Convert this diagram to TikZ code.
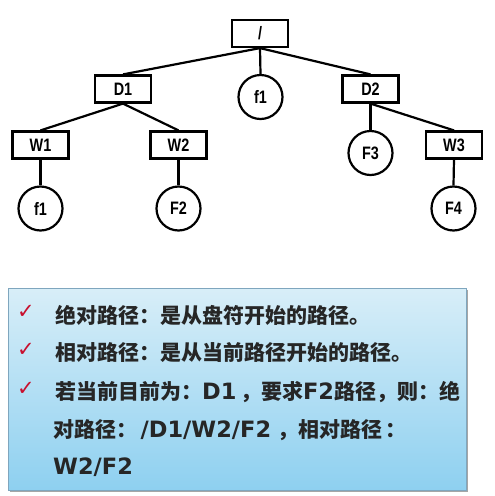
\documentclass[tikz,border=0pt]{standalone}
\usepackage{fontspec}
\usepackage{tikz}
\usetikzlibrary{arrows}
\newfontfamily\treefont{Liberation Sans}[FakeStretch=0.8]
\newfontfamily\cjk{Noto Sans CJK SC}
\newfontfamily\symfont{DejaVu Sans}
\newcommand{\lat}[1]{{\symfont\bfseries\fontsize{22.5}{22.5}\selectfont #1}}
\definecolor{boxtop}{HTML}{D8EEF8}
\definecolor{boxbottom}{HTML}{8ED0F0}
\definecolor{boxline}{HTML}{7FA6BE}
\definecolor{tickred}{HTML}{C8102E}

\begin{document}
\begin{tikzpicture}%
        [x=1pt, y=-1pt,
        dir/.style={draw, line width=2.2pt, rectangle, minimum width=56pt, minimum height=27pt, inner sep=0pt, font=\treefont\bfseries\fontsize{18}{18}\selectfont},
        file/.style={draw, line width=2.2pt, circle, minimum size=44pt, inner sep=0pt, font=\treefont\bfseries\fontsize{18}{18}\selectfont},
        branch/.style={line width=2.2pt},
        tick/.style={text=tickred, font=\symfont\fontsize{21}{21}\selectfont, inner sep=0pt},
        line/.style={anchor=west, inner sep=0pt, font=\cjk\bfseries\fontsize{21}{21}\selectfont, text=black!85}]

    \useasboundingbox (0,0) rectangle (495,496);

    %% Drawing the tree
    \node[dir] (root) at (260, 33.5) {/};
    \node[dir] (dA) at (123, 89) {D1};
    \node[file] (fA) at (260.5, 97) {f1};
    \node[dir] (dB) at (370.5, 89) {D2};
    \node[dir] (wA) at (40.5, 145) {W1};
    \node[dir] (wB) at (178.5, 145) {W2};
    \node[file] (fC) at (370.5, 153) {F3};
    \node[dir] (wC) at (454, 145) {W3};
    \node[file] (fB) at (40.5, 208.5) {f1};
    \node[file] (fD) at (178.5, 208.5) {F2};
    \node[file] (fE) at (453.5, 208.5) {F4};

    \draw[branch] (root.south) -- (dA.north);
    \draw[branch] (root.south) -- (fA.north);
    \draw[branch] (root.south) -- (dB.north);
    \draw[branch] (dA.south) -- (wA.north);
    \draw[branch] (dA.south) -- (wB.north);
    \draw[branch] (dB.south) -- (fC.north);
    \draw[branch] (dB.south) -- (wC.north);
    \draw[branch] (wA.south) -- (fB.north);
    \draw[branch] (wB.south) -- (fD.north);
    \draw[branch] (wC.south) -- (fE.north);

    %%
    %% Drawing the note
    %%
    \fill[black!35] (10,290) rectangle (468,492);
    \shade[top color=boxtop, bottom color=boxbottom, draw=boxline, line width=0.8pt] (8,288) rectangle (466,490);

    \node[tick] (tA) at (26, 312) {✓};
    \node[tick] (tB) at (26, 350) {✓};
    \node[tick] (tC) at (26, 389) {✓};

    \node[line] (lA) at (55, 315) {绝对路径：是从盘符开始的路径。};
    \node[line] (lB) at (55, 353) {相对路径：是从当前路径开始的路径。};
    \node[line] (lC) at (55, 392) {若当前目前为：\lat{D1}\,，要求\lat{F2}路径，则：绝};
    \node[line] (lD) at (53, 430) {对路径：\,\lat{/D1/W2/F2}\;，相对路径\,：};
    \node[line] (lE) at (53, 467) {\lat{W2/F2}};
    \end{tikzpicture}
\end{document}
